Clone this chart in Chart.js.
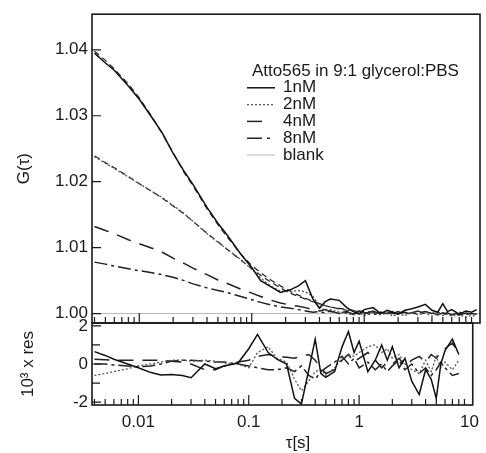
<!DOCTYPE html>
<html>
<head>
    <title>Atto565 in 9:1 glycerol:PBS</title>
    <style>
        body {
            margin: 0;
            background: #fff;
        }
        #wrap {
            position: relative;
            width: 486px;
            height: 453px;
        }
        #wrap canvas {
            position: absolute;
            left: 0;
            top: 0;
        }
    </style>
    <script src="https://cdn.jsdelivr.net/npm/chart.js"></script>
</head>
<body>
    <div id="wrap">
        <canvas id="corrChart" width="486" height="453"></canvas>
        <canvas id="resChart" width="486" height="453"></canvas>
    </div>
    <script>
        // lag times (s)
        const tau = [0.004, 0.005, 0.006, 0.008, 0.01, 0.013, 0.016, 0.02, 0.025, 0.03,
            0.04, 0.05, 0.06, 0.08, 0.1, 0.12, 0.15, 0.18, 0.22, 0.26,
            0.3, 0.35, 0.4, 0.45, 0.5, 0.6, 0.7, 0.8, 0.9, 1.0,
            1.2, 1.4, 1.6, 1.8, 2.0, 2.3, 2.6, 3.0, 3.5, 4.0,
            4.5, 5.0, 5.5, 6.0, 7.0, 8.0, 9.0, 10.0];

        // G(tau) curves
        const g1nM = [1.0395, 1.0380, 1.0369, 1.0345, 1.0325, 1.0297, 1.0274, 1.0243, 1.0216, 1.0196,
            1.0161, 1.0137, 1.0120, 1.0090, 1.0070, 1.0050, 1.0040, 1.0032, 1.0036, 1.0042,
            1.0050, 1.0022, 1.0008, 1.0018, 1.0022, 1.0020, 1.0009, 1.0003, 0.9999, 1.0006,
            1.0009, 1.0000, 1.0005, 1.0002, 0.9999, 1.0005, 1.0007, 1.0010, 1.0014, 1.0005,
            1.0002, 1.0015, 1.0003, 1.0006, 0.9999, 1.0004, 1.0002, 1.0006];
        const g2nM = [1.0238, 1.0228, 1.0220, 1.0207, 1.0197, 1.0185, 1.0176, 1.0164, 1.0152, 1.0140,
            1.0121, 1.0108, 1.0098, 1.0082, 1.0067, 1.0054, 1.0041, 1.0034, 1.0033, 1.0035,
            1.0033, 1.0026, 1.0012, 1.0004, 1.0006, 1.0002, 1.0000, 0.9998, 1.0001, 0.9997,
            1.0002, 0.9998, 1.0001, 0.9996, 0.9999, 0.9997, 1.0002, 0.9998, 1.0001, 0.9996,
            1.0000, 0.9997, 0.9999, 0.9996, 0.9998, 0.9995, 0.9997, 0.9996];
        const g4nM = [1.0132, 1.0126, 1.0121, 1.0112, 1.0106, 1.0099, 1.0093, 1.0084, 1.0076, 1.0069,
            1.0059, 1.0051, 1.0046, 1.0037, 1.0031, 1.0026, 1.0020, 1.0016, 1.0013, 1.0011,
            1.0009, 1.0006, 1.0004, 1.0006, 1.0003, 1.0001, 1.0003, 0.9999, 1.0002, 1.0000,
            1.0004, 0.9999, 1.0002, 1.0000, 1.0003, 0.9999, 1.0001, 1.0004, 0.9999, 1.0002,
            0.9998, 1.0001, 0.9999, 1.0002, 0.9998, 1.0001, 0.9999, 1.0000];
        const g8nM = [1.0078, 1.0075, 1.0072, 1.0068, 1.0065, 1.0062, 1.0059, 1.0055, 1.0050, 1.0045,
            1.0039, 1.0035, 1.0032, 1.0026, 1.0021, 1.0017, 1.0013, 1.0010, 1.0008, 1.0006,
            1.0004, 1.0002, 1.0003, 1.0001, 1.0004, 1.0000, 1.0002, 0.9999, 1.0003, 1.0001,
            0.9998, 1.0002, 1.0000, 1.0003, 1.0000, 1.0002, 0.9999, 1.0001, 1.0003, 1.0000,
            1.0002, 0.9999, 1.0001, 0.9998, 1.0002, 0.9999, 1.0000, 0.9999];
        const blankTau = [0.0038, 10.7];
        const gBlank = [1.0, 1.0];

        // fits (first 35 lag times)
        const fit1nM = [1.0398, 1.0384, 1.0371, 1.0348, 1.0327, 1.0298, 1.0273, 1.0244, 1.0214, 1.0194,
            1.0159, 1.0135, 1.0117, 1.0090, 1.0073, 1.0062, 1.0050, 1.0042, 1.0034, 1.0028,
            1.0023, 1.0019, 1.0015, 1.0012, 1.0010, 1.0007, 1.0005, 1.0004, 1.0003, 1.0002,
            1.0001, 1.0001, 1.0000, 1.0000, 1.0000];
        const fit2nM = [1.0239, 1.0229, 1.0221, 1.0208, 1.0197, 1.0185, 1.0175, 1.0163, 1.0151, 1.0140,
            1.0122, 1.0109, 1.0098, 1.0081, 1.0068, 1.0058, 1.0047, 1.0039, 1.0031, 1.0026,
            1.0022, 1.0018, 1.0015, 1.0012, 1.0010, 1.0008, 1.0006, 1.0005, 1.0004, 1.0003,
            1.0002, 1.0002, 1.0001, 1.0001, 1.0000];

        // residuals x 10^3
        const res1nM = [0.65, 0.45, 0.25, 0.0, -0.2, -0.45, -0.58, -0.55, -0.6, -0.72,
            0.0, -0.25, -0.1, 0.05, 0.8, 1.55, 0.6, 0.25, 0.0, -1.8,
            -2.1, -0.3, 1.3, -0.5, -0.7, -0.4, 0.9, 1.7, 0.6, 1.2,
            -0.4, 0.2, 1.0, 0.2, 0.9, -0.2, 0.3, -0.9, -1.6, -0.3,
            -0.8, -1.8, 0.0, 0.7, 1.3, 0.5, null, null];
        const res2nM = [-0.6, -0.5, -0.4, -0.25, -0.1, 0.0, 0.1, 0.2, 0.2, 0.15,
            0.2, 0.15, 0.05, 0.0, -0.2, 0.6, 0.9, 0.3, 0.1, -0.8,
            -1.4, -0.9, -0.4, -0.3, -0.6, -0.2, 0.3, 0.5, 0.4, 0.6,
            0.9, 1.0, 0.6, 0.8, 0.3, 0.5, 0.0, -0.3, -0.5, 0.2,
            -0.4, 0.4, -0.2, 0.1, -0.3, 0.2, null, null];
        const res4nM = [0.25, 0.22, 0.2, 0.2, 0.2, 0.2, 0.2, 0.15, 0.1, 0.0,
            -0.3, -0.3, -0.1, 0.1, 0.2, 0.4, 0.5, 0.4, 0.35, 0.3,
            0.4, 0.5, 0.2, -0.2, -0.5, -0.3, 0.2, 0.5, 0.1, 0.3,
            0.6, 0.2, -0.2, 0.1, 0.0, 0.3, -0.1, 0.2, 0.4, 0.1,
            0.5, 0.3, 0.6, 0.8, 1.1, 0.6, null, null];
        const res8nM = [0.0, 0.0, -0.05, -0.1, -0.15, -0.1, 0.0, 0.15, 0.2, 0.2,
            0.15, 0.1, 0.1, 0.0, -0.1, -0.2, -0.3, -0.3, -0.2, -0.4,
            -0.1, -0.6, -0.8, -0.4, -0.2, 0.1, 0.4, 0.0, 0.3, -0.2,
            0.1, -0.3, 0.0, -0.4, -0.1, 0.2, -0.3, 0.0, -0.5, -0.2,
            -0.6, -0.3, 0.1, -0.2, -0.6, -0.5, null, null];

        const legendTitle = 'Atto565 in 9:1 glycerol:PBS';
        const seriesLabels = ['1nM', '2nM', '4nM', '8nM', 'blank'];
        const gTicks = [1.00, 1.01, 1.02, 1.03, 1.04];
        const gTickLabels = ['1.00', '1.01', '1.02', '1.03', '1.04'];
        const resTicks = [-2, 0, 2];
        const resTickLabels = ['-2', '0', '2'];
        const resMinorTicks = [-1, 1];
        const xTicks = [0.01, 0.1, 1, 10];
        const xTickLabels = ['0.01', '0.1', '1', '10'];

        const X_MIN = 0.0038, X_MAX = 10.7;
        const FONT = '"Liberation Sans", Arial, sans-serif';
        const INK = '#1a1a1a';

        const styles = [
            { color: '#111', width: 1.5, dash: [] },
            { color: '#555', width: 1.3, dash: [2, 2] },
            { color: '#222', width: 1.5, dash: [15, 9], legendDash: [15, 20] },
            { color: '#222', width: 1.5, dash: [13, 4, 3, 4], legendDash: [15, 5, 3, 10] },
            { color: '#b5b5b5', width: 1, dash: [] }
        ];

        function pts(xs, ys) {
            return ys.map((v, i) => ({ x: xs[i], y: v }));
        }

        function lineSet(label, data, st, extra) {
            return Object.assign({
                label: label,
                data: data,
                borderColor: st.color,
                borderWidth: st.width,
                borderDash: st.dash,
                legendDash: st.legendDash || st.dash,
                pointRadius: 0,
                fill: false,
                tension: 0
            }, extra || {});
        }

        // frame + inward ticks, positions from the chart's own scales
        const frameTicks = {
            id: 'frameTicks',
            afterDatasetsDraw(chart, args, o) {
                const { ctx, chartArea: a, scales } = chart;
                ctx.save();
                ctx.strokeStyle = INK;
                ctx.lineWidth = 1.2;
                ctx.beginPath();
                (o.yMajor || []).forEach(v => {
                    const y = scales.y.getPixelForValue(v);
                    ctx.moveTo(a.left, y); ctx.lineTo(a.left + 9, y);
                });
                (o.yMinor || []).forEach(v => {
                    const y = scales.y.getPixelForValue(v);
                    ctx.moveTo(a.left, y); ctx.lineTo(a.left + 8, y);
                });
                [0.001, 0.01, 0.1, 1].forEach(d => {
                    for (let k = 1; k <= 9; k++) {
                        const v = d * k;
                        if (v < X_MIN || v > X_MAX) continue;
                        const x = scales.x.getPixelForValue(v);
                        const len = k === 1 ? 10 : 6;
                        ctx.moveTo(x, a.bottom); ctx.lineTo(x, a.bottom - len);
                    }
                });
                ctx.stroke();
                ctx.lineWidth = 1.6;
                ctx.strokeRect(a.left, a.top, a.right - a.left, a.bottom - a.top);
                if (o.xTitle) {
                    ctx.fillStyle = INK;
                    ctx.font = '17px ' + FONT;
                    ctx.textAlign = 'center';
                    ctx.textBaseline = 'middle';
                    ctx.fillText(o.xTitle, o.xTitleX, o.xTitleY);
                }
                ctx.restore();
            }
        };

        const legendBox = {
            id: 'legendBox',
            afterDatasetsDraw(chart, args, o) {
                const ctx = chart.ctx;
                ctx.save();
                ctx.font = '17px ' + FONT;
                ctx.fillStyle = INK;
                ctx.textBaseline = 'middle';
                ctx.fillText(legendTitle, o.x + 5, o.y);
                chart.data.datasets.filter(d => !d.isFit).forEach((d, i) => {
                    const y = o.y + o.gap * (i + 1);
                    ctx.strokeStyle = d.borderColor;
                    ctx.lineWidth = d.borderWidth;
                    ctx.setLineDash(d.legendDash);
                    ctx.beginPath();
                    ctx.moveTo(o.x, y);
                    ctx.lineTo(o.x + 28, y);
                    ctx.stroke();
                    ctx.setLineDash([]);
                    ctx.fillText(d.label, o.x + 36, y);
                });
                ctx.restore();
            }
        };

        const xScale = (display) => {
            const s = {
                type: 'logarithmic',
                min: X_MIN,
                max: X_MAX,
                display: display,
                afterBuildTicks: sc => { sc.ticks = xTicks.map(v => ({ value: v })); },
                grid: { display: false, drawTicks: false },
                border: { display: false },
                ticks: {
                    color: INK,
                    font: { family: FONT, size: 17 },
                    padding: 7,
                    maxRotation: 0,
                    autoSkip: false,
                    callback: (v, i) => xTickLabels[i]
                }
            };
            if (display) s.afterFit = sc => { sc.height = 48; };
            return s;
        };

        const yScale = (min, max, ticks, labels, title, titlePad) => ({
            min: min,
            max: max,
            afterBuildTicks: s => { s.ticks = ticks.map(v => ({ value: v })); },
            afterFit: s => { s.width = 92; },
            grid: { display: false, drawTicks: false },
            border: { display: false },
            ticks: {
                color: INK,
                font: { family: FONT, size: 17 },
                padding: 4,
                autoSkip: false,
                callback: (v, i) => labels[i]
            },
            title: {
                display: true,
                text: title,
                color: INK,
                font: { family: FONT, size: 17 },
                padding: { top: titlePad, bottom: 0 }
            }
        });

        new Chart(document.getElementById('corrChart'), {
            type: 'line',
            data: {
                datasets: [
                    lineSet(seriesLabels[0], pts(tau, g1nM), styles[0]),
                    lineSet(seriesLabels[1], pts(tau, g2nM), styles[1]),
                    lineSet(seriesLabels[2], pts(tau, g4nM), styles[2]),
                    lineSet(seriesLabels[3], pts(tau, g8nM), styles[3]),
                    lineSet('fit 1nM', pts(tau, fit1nM), { color: '#222', width: 1.2, dash: [6, 4] }, { isFit: true }),
                    lineSet('fit 2nM', pts(tau, fit2nM), { color: '#222', width: 1.2, dash: [6, 4] }, { isFit: true }),
                    lineSet(seriesLabels[4], pts(blankTau, gBlank), styles[4])
                ]
            },
            options: {
                responsive: false,
                animation: false,
                events: [],
                layout: { padding: { left: 0, right: 6, top: 13, bottom: 130 } },
                scales: {
                    x: xScale(false),
                    y: yScale(0.99857, 1.0454, gTicks, gTickLabels, 'G(\u03c4)', 14)
                },
                plugins: {
                    legend: { display: false },
                    tooltip: { enabled: false },
                    frameTicks: { yMajor: gTicks },
                    legendBox: { x: 247, y: 71, gap: 16.8 }
                }
            },
            plugins: [frameTicks, legendBox]
        });

        new Chart(document.getElementById('resChart'), {
            type: 'line',
            data: {
                datasets: [
                    lineSet(seriesLabels[0], pts(tau, res1nM), styles[0]),
                    lineSet(seriesLabels[1], pts(tau, res2nM), styles[1]),
                    lineSet(seriesLabels[2], pts(tau, res4nM), styles[2]),
                    lineSet(seriesLabels[3], pts(tau, res8nM), styles[3])
                ]
            },
            options: {
                responsive: false,
                animation: false,
                events: [],
                layout: { padding: { left: 0, right: 6, top: 323, bottom: 0 } },
                scales: {
                    x: xScale(true),
                    y: yScale(-2.15, 2.15, resTicks, resTickLabels, '10\u00b3 x res', 18)
                },
                plugins: {
                    legend: { display: false },
                    tooltip: { enabled: false },
                    frameTicks: { yMajor: resTicks, yMinor: resMinorTicks, xTitle: '\u03c4[s]', xTitleX: 298, xTitleY: 443 }
                }
            },
            plugins: [frameTicks]
        });
    </script>
</body>
</html>
